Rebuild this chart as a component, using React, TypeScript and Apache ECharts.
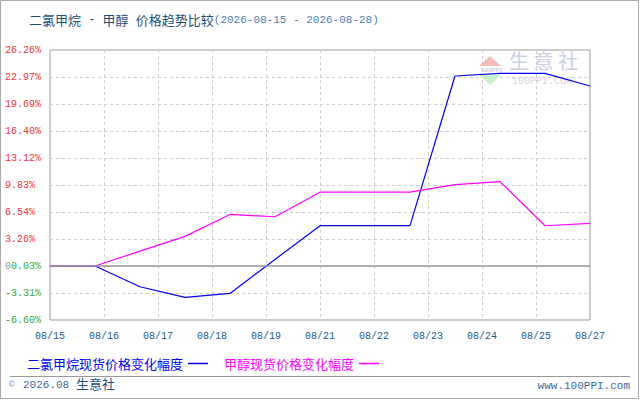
import React, { useEffect, useRef } from "react";
import * as echarts from "echarts";

const xTickLabels = ["08/15", "08/16", "08/17", "08/18", "08/19", "08/21", "08/22", "08/23", "08/24", "08/25", "08/27"];
const yTickLabels = ["-6.60%", "-3.31%", "0.03%", "3.26%", "6.54%", "9.83%", "13.12%", "16.40%", "19.69%", "22.97%", "26.26%"];
const dcmValues = [0, 0, -2.54, -3.83, -3.35, 0.8, 4.93, 4.93, 4.93, 23.22, 23.55, 23.55, 22.0];
const methanolValues = [0, 0, 1.82, 3.62, 6.3, 6.02, 9.02, 9.02, 9.02, 9.95, 10.32, 4.92, 5.2];
const seriesNames = ["二氯甲烷现货价格变化幅度", "甲醇现货价格变化幅度"];

const MONO = "'Liberation Mono', 'DejaVu Sans Mono', monospace";
const CJK = "'Noto Sans CJK SC', 'Noto Sans', sans-serif";

export default function App() {
  const ref = useRef<HTMLDivElement>(null);
  useEffect(() => {
    if (!ref.current) return;
    const chart = echarts.init(ref.current, undefined, { renderer: "svg" });
    const xMax = dcmValues.length - 1;
    const xInterval = xMax / (xTickLabels.length - 1);
    const yMin = -6.6;
    const yInterval = 3.3;
    chart.setOption({
      animation: false,
      backgroundColor: "#ffffff",
      title: {
        left: 24,
        top: 8,
        text: "{a|二氯甲烷}{m| - }{a|甲醇}{m| }{a|价格趋势比较}{b|(2026-08-15 - 2026-08-28)}",
        textStyle: {
          fontWeight: "normal",
          rich: {
            a: { fontFamily: CJK, fontSize: 13, color: "#1b4f7c", fontWeight: "normal" },
            m: { fontFamily: MONO, fontSize: 12, color: "#1b4f7c", fontWeight: "normal" },
            b: { fontFamily: MONO, fontSize: 11, color: "#4a80b0", fontWeight: "normal" },
          },
        },
      },
      grid: { left: 50, right: 50, top: 50, bottom: 80, show: true, borderColor: "#999", borderWidth: 1 },
      legend: {
        left: 22,
        top: 352,
        align: "right",
        itemWidth: 20,
        itemHeight: 1.5,
        itemGap: 16,
        icon: "rect",
        textStyle: { fontFamily: CJK, fontSize: 13 },
        data: [
          { name: seriesNames[0], textStyle: { color: "#0000ee" } },
          { name: seriesNames[1], textStyle: { color: "#ff00ff" } },
        ],
      },
      xAxis: {
        type: "value",
        min: 0,
        max: xMax,
        interval: xInterval,
        axisLine: { show: false, onZero: false },
        axisTick: { show: false },
        splitLine: { show: true, lineStyle: { color: "#cccccc", type: [3, 3] } },
        axisLabel: {
          margin: 11,
          fontFamily: MONO,
          fontSize: 10,
          color: "#1a5a8a",
          formatter: (v: number) => xTickLabels[Math.round(v / xInterval)] ?? "",
        },
      },
      yAxis: {
        type: "value",
        min: yMin,
        max: yMin + yInterval * (yTickLabels.length - 1),
        interval: yInterval,
        axisLine: { show: false },
        axisTick: { show: false },
        splitLine: { show: true, lineStyle: { color: "#cccccc", type: [3, 3] } },
        axisLabel: {
          align: "left",
          margin: 45,
          formatter: (v: number) => {
            const i = Math.round((v - yMin) / yInterval);
            const t = yTickLabels[i] ?? "";
            if (i === 2) return "{z|0}{g|" + t + "}";
            return (i < 2 ? "{g|" : "{r|") + t + "}";
          },
          rich: {
            r: { fontFamily: MONO, fontSize: 10, color: "#ee3333" },
            g: { fontFamily: MONO, fontSize: 10, color: "#33aa33" },
            z: { fontFamily: MONO, fontSize: 10, color: "#999999" },
          },
        },
      },
      series: [
        {
          name: seriesNames[0],
          type: "line",
          symbol: "none",
          color: "#0000ee",
          lineStyle: { width: 1.2, color: "#0000ee" },
          data: dcmValues.map((v, i) => [i, v]),
          z: 3,
          markLine: {
            silent: true,
            symbol: "none",
            label: { show: false },
            lineStyle: { color: "#999999", type: "solid", width: 1.5 },
            data: [{ yAxis: 0 }],
          },
        },
        {
          name: seriesNames[1],
          type: "line",
          symbol: "none",
          color: "#ff00ff",
          lineStyle: { width: 1.2, color: "#ff00ff" },
          data: methanolValues.map((v, i) => [i, v]),
          z: 4,
        },
      ],
      graphic: [
        { type: "rect", silent: true, shape: { x: 0.5, y: 0.5, width: 638, height: 398 }, style: { fill: "none", stroke: "#aaaaaa", lineWidth: 1 } },
        { type: "line", silent: true, shape: { x1: 10, y1: 376.5, x2: 630, y2: 376.5 }, style: { stroke: "#999999", lineWidth: 1 } },
        { type: "text", silent: true, x: 9, y: 380, style: { text: "©", fontFamily: MONO, fontSize: 9, fill: "#7f9fbf" } },
        { type: "text", silent: true, x: 23, y: 379, style: { text: "2026.08", fontFamily: MONO, fontSize: 11, fill: "#3a6a9a" } },
        { type: "text", silent: true, x: 76, y: 377, style: { text: "生意社", fontFamily: CJK, fontSize: 13, fill: "#1b4f7c" } },
        {
          type: "text",
          right: 10,
          top: 380,
          style: { text: "www.100PPI.com", fontFamily: MONO, fontSize: 11, fill: "#3a6a9a" },
        },
        { type: "polygon", silent: true, z: 1, shape: { points: [[490, 56], [479, 66], [501, 66]] }, style: { fill: "#f5bcbc" } },
        { type: "polygon", silent: true, z: 1, shape: { points: [[479, 75], [501, 75], [490, 85]] }, style: { fill: "#c9f0c9" } },
        { type: "text", silent: true, z: 1, x: 481, y: 67, style: { text: "100PPI", fontFamily: MONO, fontSize: 6, fill: "#b8bcd0" } },
        { type: "text", silent: true, z: 1, x: 509, y: 50, style: { text: "生 意 社", fontFamily: CJK, fontSize: 20, fill: "#cbcfe2" } },
        { type: "text", silent: true, z: 1, x: 512, y: 76, style: { text: "100PPI.COM", fontFamily: MONO, fontSize: 10, fill: "#d2d4de" } },
      ],
    });
    return () => chart.dispose();
  }, []);
  return <div ref={ref} style={{ position: "absolute", left: 0, top: 0, width: 640, height: 400 }} />;
}
